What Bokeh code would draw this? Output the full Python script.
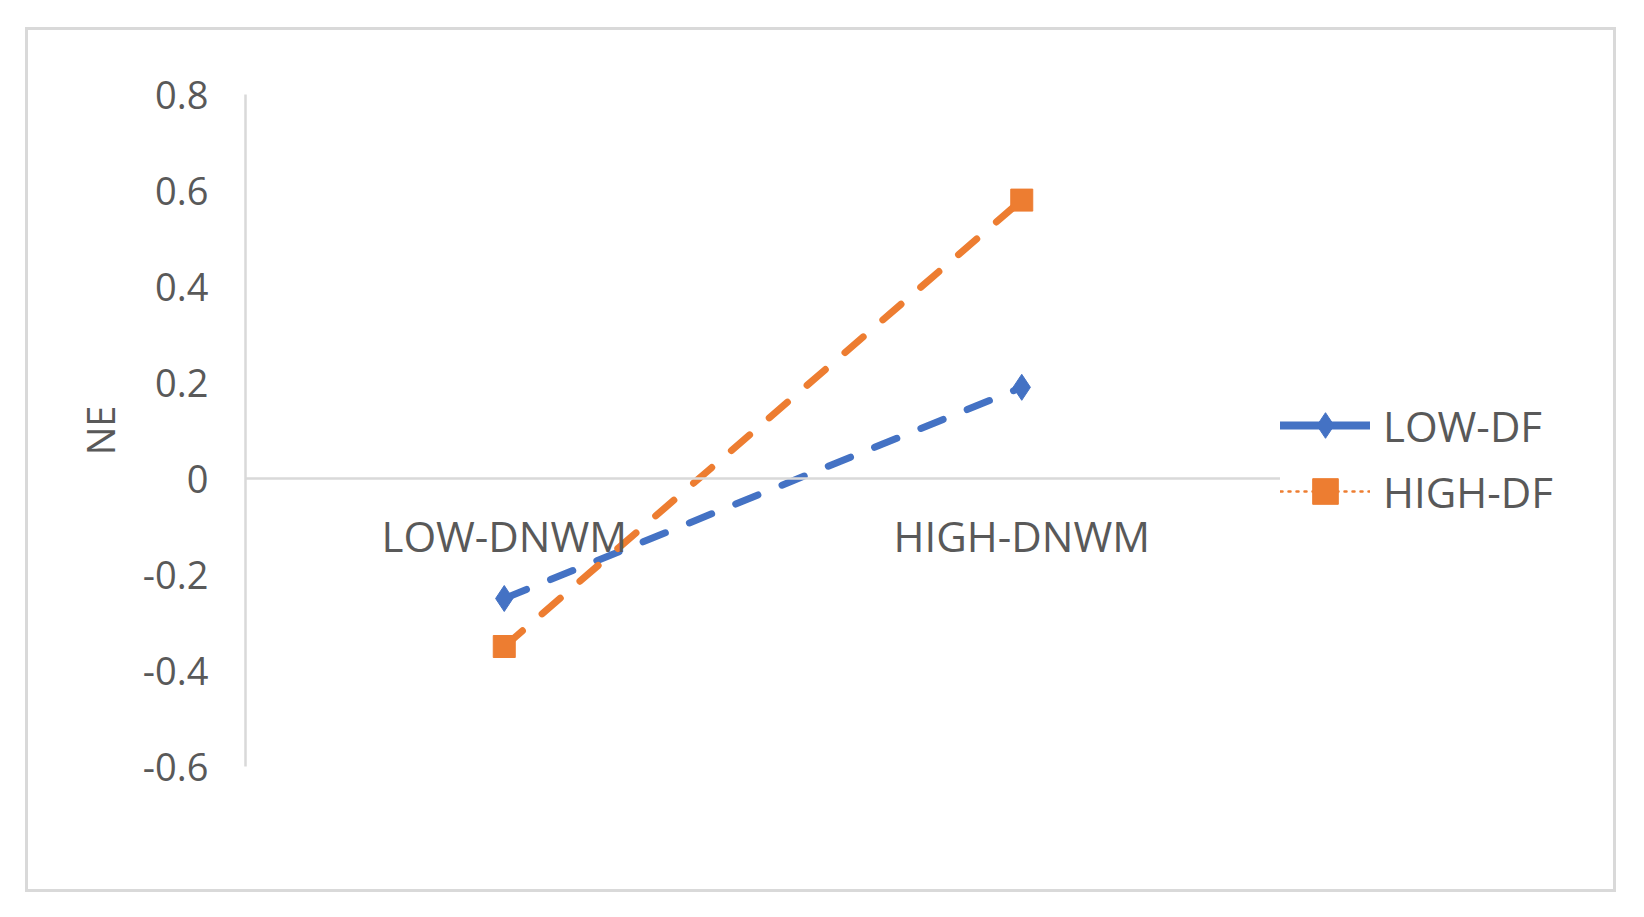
from bokeh.plotting import figure
from bokeh.models import Range1d, FixedTicker, Legend, LegendItem, ColumnDataSource, Spacer
from bokeh.layouts import row, column
from bokeh.embed import file_html
from bokeh.resources import INLINE

categories = ["LOW-DNWM", "HIGH-DNWM"]
low_df = [-0.25, 0.19]
high_df = [-0.35, 0.58]
series_names = ["LOW-DF", "HIGH-DF"]
y_ticks = [-0.6, -0.4, -0.2, 0, 0.2, 0.4, 0.6, 0.8]
y_tick_labels = ["-0.6", "-0.4", "-0.2", "0", "0.2", "0.4", "0.6", "0.8"]

BLUE = "#4472C4"
ORANGE = "#ED7D31"
GRAY_TXT = "#595959"
GRAY_LINE = "#d9d9d9"
FONT = "Open Sans"

TOTAL_W, TOTAL_H = 1585, 859
MAIN_W = 1252

p = figure(x_range=categories, y_range=Range1d(-0.6, 0.8),
           width=MAIN_W, height=TOTAL_H, output_backend="svg", toolbar_location=None,
           min_border_left=217, min_border_right=0, min_border_top=64, min_border_bottom=123)
p.outline_line_color = None
p.xgrid.grid_line_color = None
p.ygrid.grid_line_color = None
p.background_fill_color = "white"
p.border_fill_color = "white"

# y axis
p.yaxis.ticker = FixedTicker(ticks=y_ticks)
p.yaxis.major_label_overrides = {t: l for t, l in zip(y_ticks, y_tick_labels)}
p.yaxis.axis_line_color = GRAY_LINE
p.yaxis.axis_line_width = 2.5
p.yaxis.major_tick_line_color = None
p.yaxis.minor_tick_line_color = None
p.yaxis.major_tick_out = 0
p.yaxis.major_tick_in = 0
p.yaxis.major_label_standoff = 37
p.yaxis.major_label_text_font = FONT
p.yaxis.major_label_text_font_size = "38px"
p.yaxis.major_label_text_color = GRAY_TXT
p.yaxis.axis_label = "NE"
p.yaxis.axis_label_text_font = FONT
p.yaxis.axis_label_text_font_size = "38px"
p.yaxis.axis_label_text_font_style = "normal"
p.yaxis.axis_label_text_color = GRAY_TXT
p.yaxis.axis_label_standoff = 14

# x axis at y = 0
p.xaxis.fixed_location = 0
p.xaxis.axis_line_color = GRAY_LINE
p.xaxis.axis_line_width = 2.5
p.xaxis.major_tick_line_color = None
p.xaxis.minor_tick_line_color = None
p.xaxis.major_tick_out = 0
p.xaxis.major_tick_in = 0
p.xaxis.major_label_standoff = 28
p.xaxis.major_label_text_font = FONT
p.xaxis.major_label_text_font_size = "42px"
p.xaxis.major_label_text_color = GRAY_TXT

src_low = ColumnDataSource(dict(x=categories, y=low_df))
src_high = ColumnDataSource(dict(x=categories, y=high_df))

p.line("x", "y", source=src_low, line_color=BLUE, line_width=7, line_dash="24 26", line_cap="round")
p.scatter("x", "y", source=src_low, marker="diamond", size=26, fill_color=BLUE, line_color=BLUE)
p.line("x", "y", source=src_high, line_color=ORANGE, line_width=7, line_dash="24 26", line_cap="round")
p.scatter("x", "y", source=src_high, marker="square", size=22, fill_color=ORANGE, line_color=ORANGE)

# legend panel (separate figure to the right of the plot area)
q = figure(width=TOTAL_W - MAIN_W, height=TOTAL_H, output_backend="svg", toolbar_location=None,
           x_axis_type=None, y_axis_type=None, x_range=Range1d(0, 1), y_range=Range1d(0, 1),
           min_border=0)
q.outline_line_color = None
q.xgrid.grid_line_color = None
q.ygrid.grid_line_color = None
q.border_fill_color = "white"
nan = float("nan")
lg_src = ColumnDataSource(dict(x=[nan], y=[nan]))
lg_l1 = q.line("x", "y", source=lg_src, line_color=BLUE, line_width=8, line_cap="round")
lg_m1 = q.scatter("x", "y", source=lg_src, marker="diamond", size=28, fill_color=BLUE, line_color=BLUE)
lg_l2 = q.line("x", "y", source=lg_src, line_color=ORANGE, line_width=2.5, line_dash="2 6", line_cap="round")
lg_m2 = q.scatter("x", "y", source=lg_src, marker="square", size=26, fill_color=ORANGE, line_color=ORANGE)

legend = Legend(items=[LegendItem(label=series_names[0], renderers=[lg_l1, lg_m1]),
                       LegendItem(label=series_names[1], renderers=[lg_l2, lg_m2])],
                location=(0, 243), orientation="vertical")
legend.padding = 0
legend.margin = 0
legend.spacing = 2
legend.glyph_width = 90
legend.glyph_height = 64
legend.label_height = 40
legend.label_standoff = 13
legend.label_text_font = FONT
legend.label_text_font_size = "42px"
legend.label_text_color = GRAY_TXT
legend.border_line_color = None
legend.background_fill_alpha = 0
q.add_layout(legend)

box = row(p, q)
box.styles = {"border": "3px solid #d9d9d9"}
layout = column(Spacer(height=27), row(Spacer(width=25), box))
open("out.html", "w").write(file_html(layout, INLINE))
